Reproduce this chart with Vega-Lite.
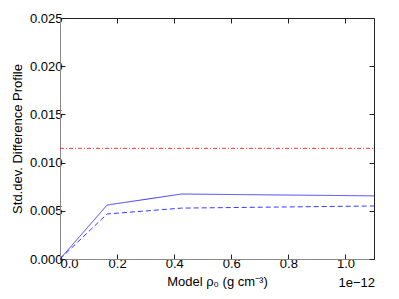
{
  "$schema": "https://vega.github.io/schema/vega-lite/v6.json",
  "width": 314,
  "height": 241,
  "autosize": {"type": "none"},
  "padding": {"left": 60, "top": 18, "right": 25, "bottom": 40},
  "config": {
    "font": "Liberation Sans",
    "view": {"stroke": "#222", "strokeWidth": 1},
    "axis": {
      "grid": false,
      "domainColor": "#888",
      "tickColor": "#222",
      "tickSize": -5,
      "labelFontSize": 13,
      "labelColor": "#000",
      "titleFontSize": 13,
      "titleFontWeight": "normal",
      "titleColor": "#000",
      "labelFont": "Liberation Sans",
      "titleFont": "Liberation Sans"
    }
  },
  "datasets": {
    "profiles": [
      {"rho": 0.0, "std": 0.0, "series": "solid"},
      {"rho": 0.165, "std": 0.0056, "series": "solid"},
      {"rho": 0.426, "std": 0.00674, "series": "solid"},
      {"rho": 1.1, "std": 0.00655, "series": "solid"},
      {"rho": 0.0, "std": 0.0, "series": "dashed"},
      {"rho": 0.165, "std": 0.00467, "series": "dashed"},
      {"rho": 0.426, "std": 0.00528, "series": "dashed"},
      {"rho": 1.1, "std": 0.0055, "series": "dashed"}
    ],
    "reference": [
      {"rho": 0.0, "std": 0.01148},
      {"rho": 1.1, "std": 0.01148}
    ],
    "offset": [
      {"rho": 1.1, "std": 0.0, "label": "1e−12"}
    ]
  },
  "resolve": {"axis": {"x": "independent", "y": "independent"}},
  "layer": [
    {
      "data": {"name": "profiles"},
      "mark": {"type": "line", "strokeWidth": 1, "color": "#3a3aff", "clip": true},
      "encoding": {
        "x": {
          "field": "rho", "type": "quantitative",
          "scale": {"domain": [0, 1.1], "nice": false, "zero": false},
          "axis": {"values": [0, 0.2, 0.4, 0.6, 0.8, 1.0], "format": ".1f", "title": "Model ρ₀ (g cm⁻³)", "labelPadding": 3, "titlePadding": 5}
        },
        "y": {
          "field": "std", "type": "quantitative",
          "scale": {"domain": [0, 0.025], "nice": false},
          "axis": {"values": [0, 0.005, 0.01, 0.015, 0.02, 0.025], "format": ".3f", "title": "Std.dev. Difference Profile", "labelPadding": 3, "titlePadding": 5}
        },
        "strokeDash": {
          "field": "series", "type": "nominal",
          "scale": {"domain": ["solid", "dashed"], "range": [[1, 0], [5, 3]]},
          "legend": null
        }
      }
    },
    {
      "data": {"name": "reference"},
      "mark": {"type": "line", "strokeWidth": 1, "color": "#ff3030", "strokeDash": [4, 2, 1, 2]},
      "encoding": {
        "x": {
          "field": "rho", "type": "quantitative",
          "axis": {"orient": "top", "values": [0, 0.2, 0.4, 0.6, 0.8, 1.0], "labels": false, "title": null, "domain": false}
        },
        "y": {
          "field": "std", "type": "quantitative",
          "axis": {"orient": "right", "values": [0, 0.005, 0.01, 0.015, 0.02, 0.025], "labels": false, "title": null, "domain": false}
        }
      }
    },
    {
      "data": {"name": "offset"},
      "mark": {"type": "text", "align": "right", "baseline": "top", "dy": 18, "dx": 1, "fontSize": 13, "font": "Liberation Sans", "color": "#000"},
      "encoding": {
        "x": {"field": "rho", "type": "quantitative", "axis": null},
        "y": {"field": "std", "type": "quantitative", "axis": null},
        "text": {"field": "label"}
      }
    }
  ]
}
